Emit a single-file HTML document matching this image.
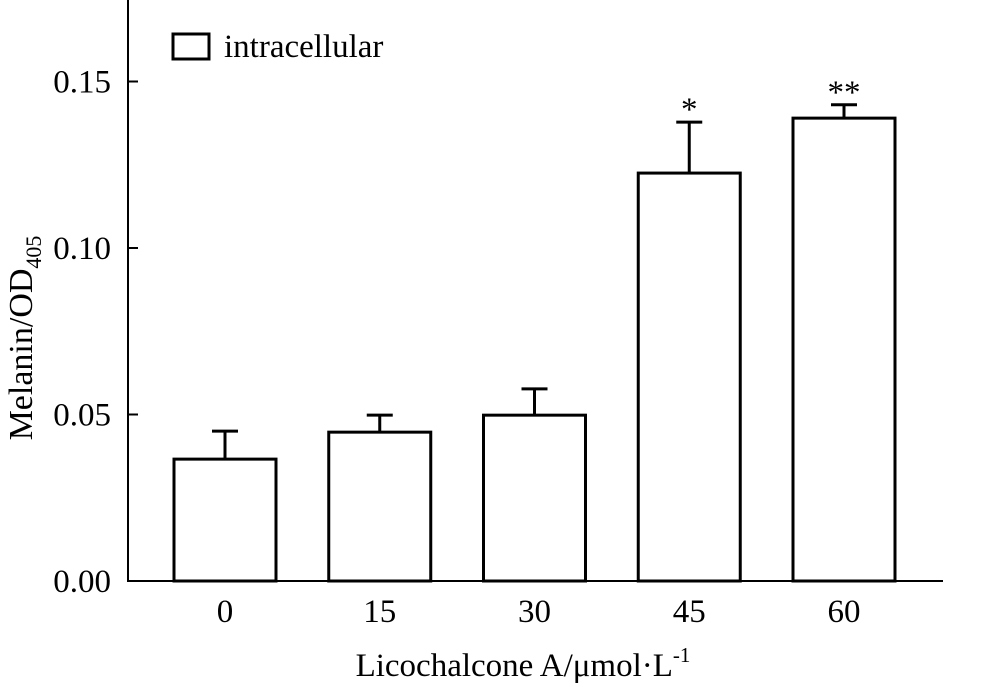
<!DOCTYPE html>
<html><head><meta charset="utf-8"><style>
html,body{margin:0;padding:0;background:#fff;}
svg{display:block;font-family:"Liberation Serif",serif;}
</style></head><body>
<svg width="985" height="687" viewBox="0 0 985 687">
<g id="marks"></g>
<g id="axes"></g>
</svg>
<script>
const categories = ["0","15","30","45","60"];
const values = [0.0366, 0.0447, 0.0498, 0.1225, 0.139];
const errors = [0.0084, 0.0051, 0.0079, 0.0153, 0.0040];
const sig = ["","","","*","**"];
const yTicks = [0, 0.05, 0.10, 0.15];
const yTickLabels = ["0.00","0.05","0.10","0.15"];

const NS="http://www.w3.org/2000/svg";
const y0=581, pxPerUnit=3330, xAxisLeft=127, xAxisRight=943, yAxisX=128;
function yScale(v){return y0 - v*pxPerUnit;}
function xScale(i){return 225 + 154.75*i;}
const barW=102;
function mk(tag,attrs,parent){const e=document.createElementNS(NS,tag);for(const k in attrs)e.setAttribute(k,attrs[k]);parent.appendChild(e);return e;}
const marks=document.getElementById('marks'), axes=document.getElementById('axes');

categories.forEach((c,i)=>{
  const cx=xScale(i), top=yScale(values[i]), et=yScale(values[i]+errors[i]);
  const l=mk('line',{x1:cx,y1:top,x2:cx,y2:et,stroke:'#000','stroke-width':3},marks);
  
  
  const cap=mk('line',{x1:cx-13,y1:et,x2:cx+13,y2:et,stroke:'#000','stroke-width':3},marks);
  
  
  const r=mk('rect',{x:cx-barW/2,y:top,width:barW,height:y0-top,fill:'#fff',stroke:'#000','stroke-width':3},marks);
  
  
  const t=mk('text',{x:cx,y:y0+41,'font-size':33,'text-anchor':'middle'},axes);
  t.textContent=c;
  
  
  if(sig[i]){
    const s=mk('text',{x:cx,y:et-2,'font-size':33,'text-anchor':'middle'},axes);
    s.textContent=sig[i];
    
    
  }
});
const xa=mk('line',{x1:xAxisLeft,y1:y0,x2:xAxisRight,y2:y0,stroke:'#000','stroke-width':2},axes);


const ya=mk('line',{x1:yAxisX,y1:0,x2:yAxisX,y2:y0+1,stroke:'#000','stroke-width':2},axes);


yTicks.forEach((v,i)=>{
  const yy=yScale(v);
  const tk=mk('line',{x1:yAxisX,y1:yy,x2:yAxisX+10,y2:yy,stroke:'#000','stroke-width':2},axes);
  
  
  const tl=mk('text',{x:111,y:yy+11,'font-size':33,'text-anchor':'end'},axes);
  tl.textContent=yTickLabels[i];
  
  
});
</script>
<svg style="position:absolute;left:0;top:0" width="985" height="687">
<rect x="173" y="34" width="36" height="25" fill="#fff" stroke="#000" stroke-width="3"/>
<text x="224" y="57" font-size="33" font-family="Liberation Serif, serif">intracellular</text>
<text x="523" y="676" font-size="33" text-anchor="middle" font-family="Liberation Serif, serif">Licochalcone A/μmol·L<tspan dy="-14" font-size="21">-1</tspan></text>
<text transform="translate(32,338) rotate(-90)" font-size="34" text-anchor="middle" font-family="Liberation Serif, serif">Melanin/OD<tspan dy="9" font-size="22">405</tspan></text>
</svg>
</body></html>
